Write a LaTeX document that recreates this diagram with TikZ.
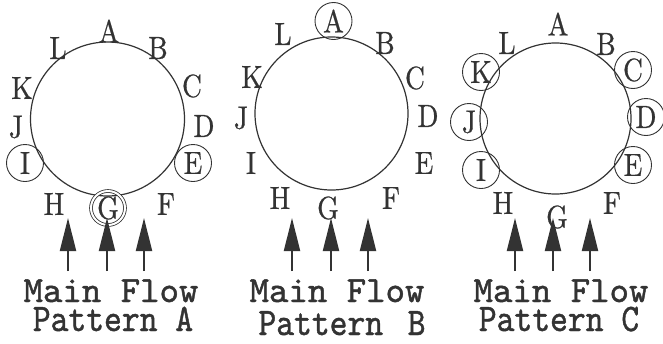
\documentclass[tikz,border=0pt]{standalone}
\usepackage{fontspec}
\usepackage{graphicx}
\usetikzlibrary{arrows.meta}
\newfontfamily\capfont{lmmono10-regular.otf}[FakeBold=1.2]
\newfontfamily\ltrfont{lmroman10-regular.otf}[FakeStretch=0.86,FakeBold=0.6]
\definecolor{ink}{HTML}{333333}
\newcommand{\capx}[1]{\scalebox{0.87}[1]{#1}}
\begin{document}
\begin{tikzpicture}[x=1pt,y=-1pt,
  ring/.style={draw=ink, line width=1.2pt, circle, minimum size=#1, inner sep=0pt},
  lbl/.style={inner sep=0pt, text=ink, font=\fontsize{32}{32}\selectfont\ltrfont},
  circ/.style={lbl, draw=ink, line width=0.9pt, circle, minimum size=37pt},
  dcirc/.style={lbl, draw=ink, line width=0.8pt, double, double distance=2pt, circle, minimum size=34pt},
  flow/.style={draw=ink, line width=2pt, -{Triangle[length=33pt,width=16pt]}},
  captxt/.style={anchor=base, inner sep=0pt, text=ink, text height=23pt, text depth=0pt, font=\fontsize{37}{37}\selectfont\capfont},
  pattxt/.style={anchor=base, inner sep=0pt, text=ink, text height=24pt, text depth=0pt, font=\fontsize{39}{39}\selectfont\capfont}]
\useasboundingbox (0,0) rectangle (663,343);
\fill[white] (0,0) rectangle (663,343);

% ---------- Pattern A ----------
\node[ring=154pt] (ringA) at (107.5,119) {};
\node[lbl]   (aA) at (109,31)  {A};
\node[lbl]   (aB) at (158,48)  {B};
\node[lbl]   (aC) at (192,86)  {C};
\node[lbl]   (aD) at (204,126) {D};
\node[circ]  (aE) at (193,163) {E};
\node[lbl]   (aF) at (166,204) {F};
\node[dcirc] (aG) at (108,208) {G};
\node[lbl]   (aH) at (54,204)  {H};
\node[circ]  (aI) at (25,163)  {I};
\node[lbl]   (aJ) at (16,127)  {J};
\node[lbl]   (aK) at (22,88)   {K};
\node[lbl]   (aL) at (58,48)   {L};
\coordinate (aS1) at (68,271);  \coordinate (aT1) at (68,218);
\coordinate (aS2) at (107,271); \coordinate (aT2) at (107,218);
\coordinate (aS3) at (144,271); \coordinate (aT3) at (144,218);
\draw[flow] (aS1) -- (aT1);
\draw[flow] (aS2) -- (aT2);
\draw[flow] (aS3) -- (aT3);
\node[captxt] (aMF) at (111,302) {Main Flow};
\node[pattxt] (aPT) at (113,331) {\capx{Pattern A}};

% ---------- Pattern B ----------
\node[ring=153pt] (ringB) at (331.5,113.5) {};
\node[circ]  (bA) at (333.5,21) {A};
\node[lbl]   (bB) at (385,43)  {B};
\node[lbl]   (bC) at (415,78)  {C};
\node[lbl]   (bD) at (428,116) {D};
\node[lbl]   (bE) at (424,163) {E};
\node[lbl]   (bF) at (391,198) {F};
\node[lbl]   (bG) at (328,208) {G};
\node[lbl]   (bH) at (280,198) {H};
\node[lbl]   (bI) at (251,163) {I};
\node[lbl]   (bJ) at (241,118) {J};
\node[lbl]   (bK) at (252,77)  {K};
\node[lbl]   (bL) at (283,34)  {L};
\coordinate (bS1) at (292,271); \coordinate (bT1) at (292,218);
\coordinate (bS2) at (331,271); \coordinate (bT2) at (331,218);
\coordinate (bS3) at (368,271); \coordinate (bT3) at (368,218);
\draw[flow] (bS1) -- (bT1);
\draw[flow] (bS2) -- (bT2);
\draw[flow] (bS3) -- (bT3);
\node[captxt] (bMF) at (337,302) {Main Flow};
\node[pattxt] (bPT) at (342,335) {\capx{Pattern\hspace{0.2em}\ B}};

% ---------- Pattern C ----------
\node[ring=151pt] (ringC) at (555.5,118.5) {};
\node[lbl]   (cA) at (558,24)  {A};
\node[lbl]   (cB) at (606,44)  {B};
\node[circ]  (cC) at (633,70)  {C};
\node[circ]  (cD) at (646,117) {D};
\node[circ]  (cE) at (633,165) {E};
\node[lbl]   (cF) at (612,203) {F};
\node[lbl]   (cG) at (557,217) {G};
\node[lbl]   (cH) at (503,203) {H};
\node[circ]  (cI) at (481,170) {I};
\node[circ]  (cJ) at (469,122) {J};
\node[circ]  (cK) at (481,72)  {K};
\node[lbl]   (cL) at (507,43)  {L};
\coordinate (cS1) at (515,271); \coordinate (cT1) at (515,218);
\coordinate (cS2) at (553,271); \coordinate (cT2) at (553,218);
\coordinate (cS3) at (590,271); \coordinate (cT3) at (590,218);
\draw[flow] (cS1) -- (cT1);
\draw[flow] (cS2) -- (cT2);
\draw[flow] (cS3) -- (cT3);
\node[captxt] (cMF) at (561,302) {Main Flow};
\node[pattxt] (cPT) at (559,331) {\capx{Pattern C}};
\end{tikzpicture}
\end{document}
